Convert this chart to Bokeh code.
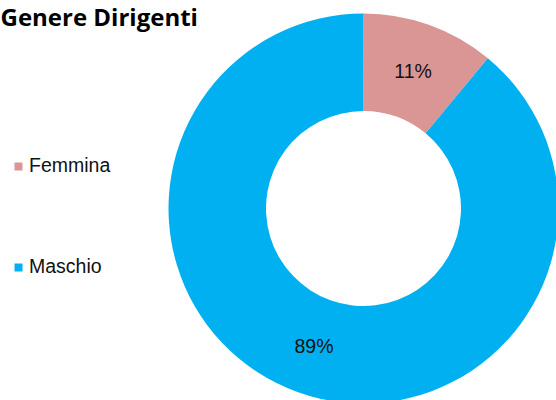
import math
from bokeh.plotting import figure
from bokeh.models import ColumnDataSource, Range1d, Legend, LegendItem, Label
from bokeh.core.properties import value
from bokeh.embed import file_html
from bokeh.resources import INLINE

# ---- data ----
title_text = "Genere Dirigenti"
categories = ["Femmina", "Maschio"]
values = [11, 89]
labels = ["11%", "89%"]
colors = ["#D99694", "#00B0F0"]

# ---- layout (pixels, y up) ----
W, H = 556, 400
cx, cy = 363, 192
r_in, r_out = 97.5, 195

total = float(sum(values))
starts, ends, mids = [], [], []
acc = 0.0
for v in values:
    a0 = math.pi / 2 - 2 * math.pi * acc / total
    acc += v
    a1 = math.pi / 2 - 2 * math.pi * acc / total
    starts.append(a1)
    ends.append(a0)
    mids.append((a0 + a1) / 2)

r_mid = (r_in + r_out) / 2
src = ColumnDataSource(dict(
    cat=categories, val=values, color=colors,
    start=starts, end=ends,
    lx=[cx + r_mid * math.cos(m) for m in mids],
    ly=[cy + r_mid * math.sin(m) for m in mids],
    lab=labels,
))

p = figure(width=W, height=H, output_backend="svg", toolbar_location=None,
           x_range=Range1d(0, W), y_range=Range1d(0, H),
           x_axis_type=None, y_axis_type=None, min_border=0,
           outline_line_color=None, background_fill_color="white",
           border_fill_color="white")
p.grid.visible = False

wedges = p.annular_wedge(x=cx, y=cy, inner_radius=r_in, outer_radius=r_out,
                         start_angle="start", end_angle="end", color="color",
                         line_color=None, source=src)

p.text(x="lx", y="ly", text="lab", source=src, text_align="center",
       text_baseline="middle", text_font=value("Liberation Sans"),
       text_font_size="19.5px", text_color="#111111")

legend = Legend(items=[LegendItem(label=c, renderers=[wedges], index=i)
                       for i, c in enumerate(categories)],
                location=(13, 122), orientation="vertical",
                glyph_width=10, glyph_height=10, label_height=22,
                label_standoff=6, spacing=78, padding=0, margin=0,
                border_line_color=None, background_fill_alpha=0,
                label_text_font="Liberation Sans", label_text_font_size="19.5px",
                label_text_color="#111111")
p.add_layout(legend)

p.add_layout(Label(x=0, y=H - 16, x_units="screen", y_units="screen",
                   text=title_text, text_font="Open Sans", text_font_style="bold",
                   text_font_size="24px", text_color="#000000",
                   text_baseline="alphabetic"))

open("out.html", "w").write(file_html(p, INLINE))
